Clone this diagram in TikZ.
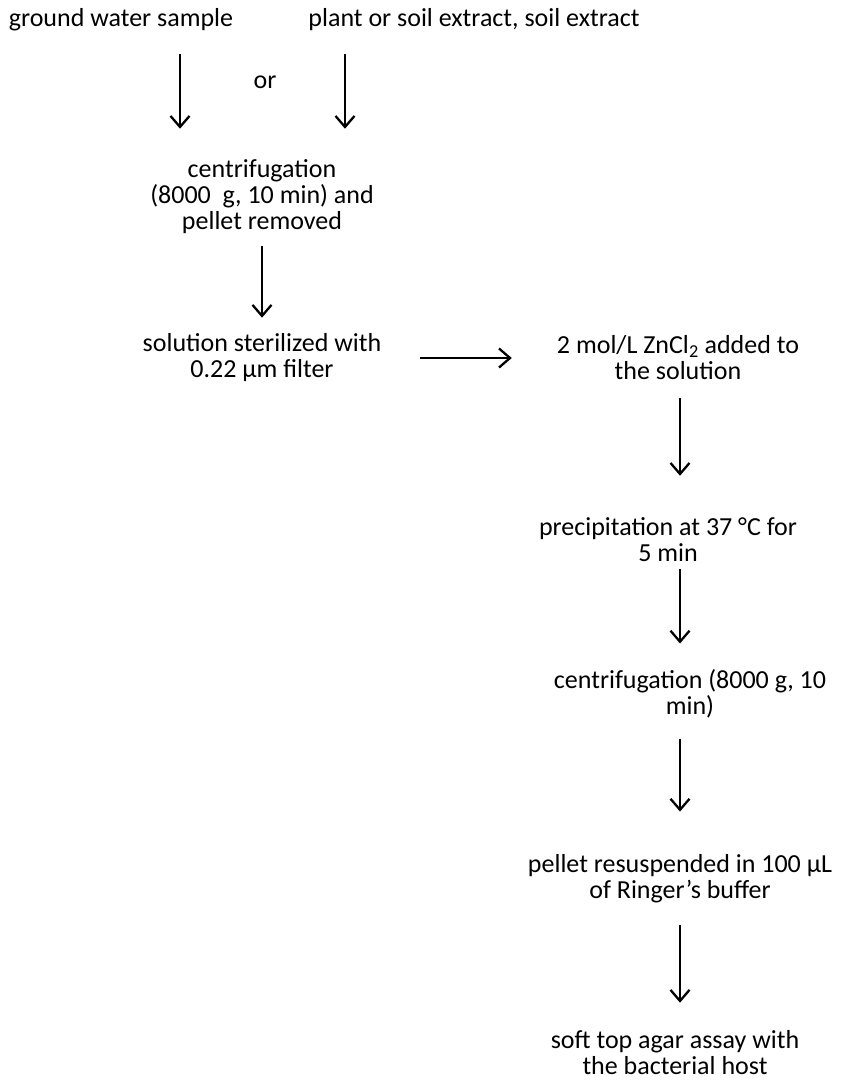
\documentclass[tikz,border=0pt]{standalone}
\usepackage{fontspec}
\setmainfont{Carlito}
\usetikzlibrary{arrows.meta}

\begin{document}
\begin{tikzpicture}[x=1pt,y=-1pt]
      \tikzstyle{etape}=[inner sep=0pt,align=center,font=\fontsize{26}{26}\selectfont]
      \tikzstyle{fleche}=[line width=2.3pt,-{Straight Barb[length=11pt,width=19pt,line width=2.3pt]}]
      \useasboundingbox (0,0) rectangle (862,1085);
      \node[etape] (gw) at (121,20) {ground water sample};
      \node[etape] (pl) at (474,20) {plant or soil extract, soil extract};
      \node[etape] (ou) at (265,82) {or};
      \node[etape] (cf) at (262,197) {centrifugation\\(8000~~g, 10 min) and\\pellet removed};
      \node[etape] (sol) at (262,358) {solution sterilized with\\0.22 µm filter};
      \node[etape] (zn) at (678,358) {2 mol/L ZnCl\textsubscript{2} added to\\the solution};
      \node[etape] (pr) at (668,540) {precipitation at 37 °C for\\5 min};
      \node[etape] (cf2) at (690,694) {centrifugation (8000 g, 10\\min)};
      \node[etape] (pel) at (680,879) {pellet resuspended in 100 µL\\of Ringer’s buffer};
      \node[etape] (soft) at (675,1053) {soft top agar assay with\\the bacterial host};
      \coordinate (lx) at (180,0);
      \coordinate (rx) at (345,0);
      \coordinate (col) at (680,0);
      \draw[fleche,shorten <=23pt,shorten >=31pt] (gw.south -| lx) -- (cf.north -| lx);
      \draw[fleche,shorten <=23pt,shorten >=31pt] (pl.south -| rx) -- (cf.north -| rx);
      \draw[fleche,shorten <=12pt,shorten >=16pt] (cf.south) -- (sol.north);
      \draw[fleche,shorten <=39pt,shorten >=45pt] (sol.east) -- (zn.west);
      \draw[fleche,shorten <=18pt,shorten >=42pt] (zn.south -| col) -- (pr.north -| col);
      \draw[fleche,shorten <=7pt,shorten >=26pt] (pr.south -| col) -- (cf2.north -| col);
      \draw[fleche,shorten <=20pt,shorten >=43pt] (cf2.south -| col) -- (pel.north -| col);
      \draw[fleche,shorten <=22pt,shorten >=28pt] (pel.south -| col) -- (soft.north -| col);
    \end{tikzpicture}
\end{document}
